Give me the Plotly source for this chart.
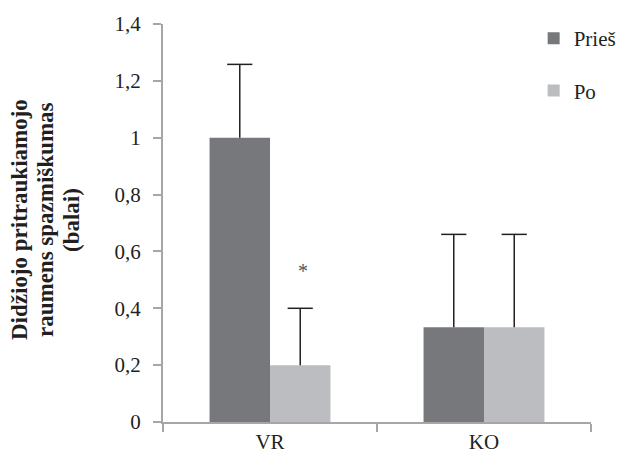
import plotly.graph_objects as go

categories = ["VR", "KO"]
pries = [1.0, 0.333]
pries_err = [0.258, 0.327]
po = [0.2, 0.333]
po_err = [0.2, 0.327]
y_ticks = [0, 0.2, 0.4, 0.6, 0.8, 1.0, 1.2, 1.4]
title_lines = ["Didžiojo pritraukiamojo", "raumens spazmiškumas", "(balai)"]

font_family = "Liberation Serif, Times New Roman, serif"
err_color = "#231f20"
bargap = 0.435

fig = go.Figure()
for name, vals, errs, color, grp in [("Prieš", pries, pries_err, "#77787b", "a"),
                                     ("Po", po, po_err, "#bcbdc0", "b")]:
    fig.add_trace(go.Bar(
        x=categories, y=vals, name=name, legendgroup=grp,
        offsetgroup=grp, alignmentgroup="g",
        marker=dict(color=color, line=dict(width=0)),
        error_y=dict(type="data", symmetric=False, array=errs, arrayminus=[0] * len(errs),
                     color=err_color, thickness=1.5, width=0),
    ))
for vals, errs, grp in [(pries, pries_err, "a"), (po, po_err, "b")]:
    fig.add_trace(go.Scatter(
        x=categories, y=[v + e for v, e in zip(vals, errs)], mode="markers",
        offsetgroup=grp, alignmentgroup="g", showlegend=False, hoverinfo="skip",
        marker=dict(symbol="line-ew", size=18, color=err_color,
                    line=dict(color=err_color, width=1.5)),
    ))

fig.update_layout(
    width=623, height=455,
    margin=dict(l=163, r=32, t=24, b=33, autoexpand=False),
    paper_bgcolor="white", plot_bgcolor="white",
    barmode="group", bargap=bargap, bargroupgap=0,
    scattermode="group", scattergap=bargap,
    separators=", ",
    font=dict(family=font_family, color="#231f20", size=18),
    showlegend=True,
    legend=dict(x=0.866, y=1.015, xanchor="left", yanchor="top",
                font=dict(size=21, family=font_family), tracegroupgap=22,
                bgcolor="rgba(0,0,0,0)"),
    xaxis=dict(type="category", tickson="boundaries", ticks="outside", ticklen=8,
               tickcolor="#a6a6a6", tickwidth=2, automargin=False,
               showline=True, linecolor="#a6a6a6", linewidth=2,
               showgrid=False, tickfont=dict(size=21, family=font_family)),
    yaxis=dict(range=[0, 1.4], tickvals=y_ticks, ticks="outside", ticklen=8,
               tickcolor="#a6a6a6", tickwidth=2, automargin=False,
               showline=True, linecolor="#a6a6a6", linewidth=2,
               showgrid=False, zeroline=False, ticklabelstandoff=8,
               tickfont=dict(size=21, family=font_family)),
)

for line, px in zip(title_lines, [19, 45, 71]):
    fig.add_annotation(
        text="<b>" + line + "</b>",
        xref="paper", yref="paper", x=0, xshift=px - 163, y=0.5, yshift=3,
        xanchor="center", yanchor="middle", textangle=-90,
        showarrow=False, font=dict(size=23, family=font_family, color="#231f20"),
    )
fig.add_annotation(
    text="*", xref="paper", yref="y", x=0.31, y=0.53, showarrow=False,
    font=dict(size=20, family=font_family, color="#555555"),
)

fig.write_html(
    "out.html",
    config={"displayModeBar": False},
    post_script="document.body.style.margin='0';document.body.style.overflow='hidden';",
)
